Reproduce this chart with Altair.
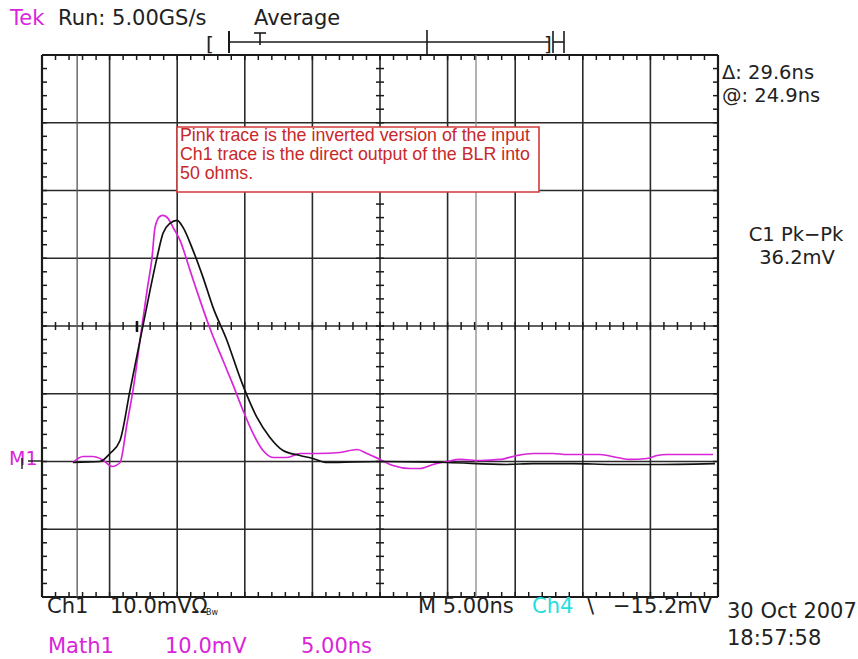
import altair as alt
import pandas as pd

# ---- data (time in ns, amplitude in mV) ----
math1_t = [2.29, 3.03, 3.77, 4.44, 5.18, 5.77, 6.29, 6.73, 7.25, 7.77, 8.14, 8.36, 8.73, 8.95, 9.32,
           9.69, 10.21, 10.95, 11.69, 12.43, 13.39, 14.13, 14.87, 15.61, 16.35, 17.09, 18.12, 19.08,
           20.34, 22.04, 23.30, 24.04, 25.0, 25.96, 27.22, 27.96, 28.92, 29.96, 30.92, 32.40, 33.88,
           35.13, 36.32, 37.80, 38.83, 40.01, 41.27, 42.53, 43.49, 44.75, 45.49, 46.23, 47.41, 49.63]
math1_mv = [-0.15, 0.74, 0.74, 0.30, -0.74, -0.15, 5.61, 10.49, 17.87, 25.26, 30.13, 34.56, 36.19, 36.34,
            35.89, 34.56, 32.64, 28.21, 23.78, 19.6, 14.9, 11.3, 7.53, 4.14, 1.62, 0.59, 0.59, 1.18,
            1.18, 1.33, 1.77, 1.18, 0.30, -0.59, -1.03, -1.03, -0.44, 0.0, 0.30, 0.15, 0.30,
            0.89, 1.18, 1.18, 1.03, 1.03, 1.03, 0.59, 0.30, 0.44, 0.89, 1.03, 1.03, 1.03]

ch1_t = [2.29, 4.29, 5.03, 5.77, 6.51, 7.25, 7.99, 8.51, 8.95, 9.47, 9.99, 10.43, 11.17, 11.91, 12.65,
         13.68, 14.64, 15.16, 15.90, 16.86, 17.83, 19.08, 20.04, 21.08, 25.0, 29.96, 34.39, 36.32,
         39.28, 42.23, 44.97, 49.78]
ch1_mv = [-0.15, 0.0, 1.18, 3.10, 10.49, 17.87, 25.26, 30.13, 33.68, 35.16, 35.6, 34.56, 31.17, 27.18,
          22.75, 17.87, 12.41, 9.75, 6.50, 3.55, 1.62, 0.89, 0.44, -0.15, 0.0, -0.15, -0.44, -0.30,
          -0.30, -0.44, -0.44, -0.30]

grid_t = [0, 5, 10, 15, 20, 25, 30, 35, 40, 45, 50]
grid_mv = [-20, -10, 0, 10, 20, 30, 40, 50, 60]
minor_t = [i * 1.0 for i in range(51)]
minor_mv = [i * 2.0 for i in range(-10, 31)]
cursor_t = [2.6, 32.1]

note_lines = ["Pink trace is the inverted version of the input",
              "Ch1 trace is the direct output of the BLR into",
              "50 ohms."]

# ---- layout ----
W, H = 676, 542
OX, OY = 42, 55
xs = alt.Scale(domain=[0, 50], nice=False, zero=False)
ys = alt.Scale(domain=[-20, 60], nice=False, zero=False)
MAG = "#d925d9"
INK = "#222222"
one = pd.DataFrame({"a": [0]})

traces = pd.concat([
    pd.DataFrame({"t": math1_t, "mv": math1_mv, "s": "Math1"}),
    pd.DataFrame({"t": ch1_t, "mv": ch1_mv, "s": "Ch1"}),
])

layers = []

# major grid
layers.append(alt.Chart(pd.DataFrame({"t": grid_t[1:-1]})).mark_rule(color="#2a2a2a", strokeWidth=1.6)
              .encode(x=alt.X("t:Q", scale=xs, axis=None)))
layers.append(alt.Chart(pd.DataFrame({"mv": grid_mv[1:-1]})).mark_rule(color="#2a2a2a", strokeWidth=1.6)
              .encode(y=alt.Y("mv:Q", scale=ys, axis=None)))
# border
layers.append(alt.Chart(pd.DataFrame({"t": [grid_t[0], grid_t[-1]]})).mark_rule(color="#1a1a1a", strokeWidth=2.2)
              .encode(x=alt.X("t:Q", scale=xs, axis=None)))
layers.append(alt.Chart(pd.DataFrame({"mv": [grid_mv[0], grid_mv[-1]]})).mark_rule(color="#1a1a1a", strokeWidth=2.2)
              .encode(y=alt.Y("mv:Q", scale=ys, axis=None)))

# cursors
layers.append(alt.Chart(pd.DataFrame({"t": cursor_t[:1]})).mark_rule(color="#555555", strokeWidth=1.3)
              .encode(x=alt.X("t:Q", scale=xs, axis=None)))
layers.append(alt.Chart(pd.DataFrame({"t": cursor_t[1:]})).mark_rule(color="#8a8a8a", strokeWidth=1.3)
              .encode(x=alt.X("t:Q", scale=xs, axis=None)))

# minor ticks
cy = H * (60 - 20) / 80.0
cx = W / 2.0
mt = pd.DataFrame({"t": minor_t})
mm = pd.DataFrame({"mv": minor_mv})
tk = dict(color="#1a1a1a", strokeWidth=1.5)
layers.append(alt.Chart(mt).mark_rule(**tk).encode(x=alt.X("t:Q", scale=xs, axis=None),
                                                   y=alt.value(cy - 4), y2=alt.value(cy + 4)))
layers.append(alt.Chart(mt).mark_rule(**tk).encode(x=alt.X("t:Q", scale=xs, axis=None),
                                                   y=alt.value(0), y2=alt.value(5)))
layers.append(alt.Chart(mt).mark_rule(**tk).encode(x=alt.X("t:Q", scale=xs, axis=None),
                                                   y=alt.value(H - 5), y2=alt.value(H)))
layers.append(alt.Chart(mm).mark_rule(**tk).encode(y=alt.Y("mv:Q", scale=ys, axis=None),
                                                   x=alt.value(cx - 4), x2=alt.value(cx + 4)))
layers.append(alt.Chart(mm).mark_rule(**tk).encode(y=alt.Y("mv:Q", scale=ys, axis=None),
                                                   x=alt.value(0), x2=alt.value(5)))
layers.append(alt.Chart(mm).mark_rule(**tk).encode(y=alt.Y("mv:Q", scale=ys, axis=None),
                                                   x=alt.value(W - 5), x2=alt.value(W)))
# trigger point marker on centre line
layers.append(alt.Chart(one).mark_rule(color="#111", strokeWidth=2.5)
              .encode(x=alt.value(137 - OX), y=alt.value(cy - 5), y2=alt.value(cy + 6)))


def seg(x1, y1, x2, y2, w=1.6, c="#1a1a1a"):
    return alt.Chart(one).mark_rule(color=c, strokeWidth=w).encode(
        x=alt.value(x1 - OX), x2=alt.value(x2 - OX), y=alt.value(y1 - OY), y2=alt.value(y2 - OY))


def txt(s, x, y, size=21, color=INK, align="left", font="DejaVu Sans"):
    return alt.Chart(one).mark_text(align=align, baseline="alphabetic", fontSize=size, color=color,
                                    font=font).encode(x=alt.value(x - OX), y=alt.value(y - OY),
                                                      text=alt.value(s))


# record bar
layers += [seg(229, 42, 550, 42), seg(229, 31, 229, 53, 2), seg(427, 30, 427, 55),
           seg(553, 31, 553, 53), seg(553, 42, 564, 42), seg(564, 31, 564, 53),
           seg(254, 33, 266, 33), seg(260, 33, 260, 45)]
layers += [txt("[", 206, 51, 20), txt("]", 544, 51, 20)]

# note box
layers.append(alt.Chart(one).mark_rect(fill="white", stroke="#d23a3a", strokeWidth=1.6)
              .encode(x=alt.value(177 - OX), x2=alt.value(539 - OX), y=alt.value(127 - OY),
                      y2=alt.value(192 - OY)))
for i, line in enumerate(note_lines):
    layers.append(txt(line, 180, 141 + i * 19, 17.8, "#c8282a", font="Liberation Sans"))

# traces
layers.append(alt.Chart(traces).mark_line(strokeWidth=1.7, interpolate="monotone").encode(
    x=alt.X("t:Q", scale=xs, axis=None),
    y=alt.Y("mv:Q", scale=ys, axis=None),
    color=alt.Color("s:N", scale=alt.Scale(domain=["Ch1", "Math1"], range=["#111111", MAG]), legend=None),
    order=alt.Order("t:Q"),
))

# header / side / footer texts
layers += [
    txt("Tek", 10, 25, 21, MAG), txt("Run: 5.00GS/s", 58, 25), txt("Average", 254, 25),
    txt("Δ: 29.6ns", 722, 79, 19.5), txt("@: 24.9ns", 722, 102, 19.5),
    txt("C1 Pk−Pk", 796, 241, 19.5, align="center"), txt("36.2mV", 797, 264, 19.5, align="center"),
    txt("Ch1", 47, 613), txt("10.0mVΩ", 110, 613), txt("Bw", 206, 615, 8),
    txt("M 5.00ns", 418, 613), txt("Ch4", 532, 613, 21, "#22dede"), txt("\\", 587, 613),
    txt("−15.2mV", 613, 613),
    txt("30 Oct 2007", 727, 618), txt("18:57:58", 727, 645),
    txt("Math1", 48, 653, 21, MAG), txt("10.0mV", 165, 653, 21, MAG), txt("5.00ns", 301, 653, 21, MAG),
    txt("M1", 9, 465, 19, MAG), seg(28, 461, 42, 461, 1.4), seg(22, 458, 22, 469, 1.4),
]

chart = alt.layer(*layers).properties(
    width=W, height=H,
    padding={"left": OX, "top": OY, "right": 858 - OX - W, "bottom": 659 - OY - H},
    autosize=alt.AutoSizeParams(type="none"),
    background="white",
).configure_view(stroke=None)

chart.save("out.html", embed_options={"renderer": "svg", "actions": False})
